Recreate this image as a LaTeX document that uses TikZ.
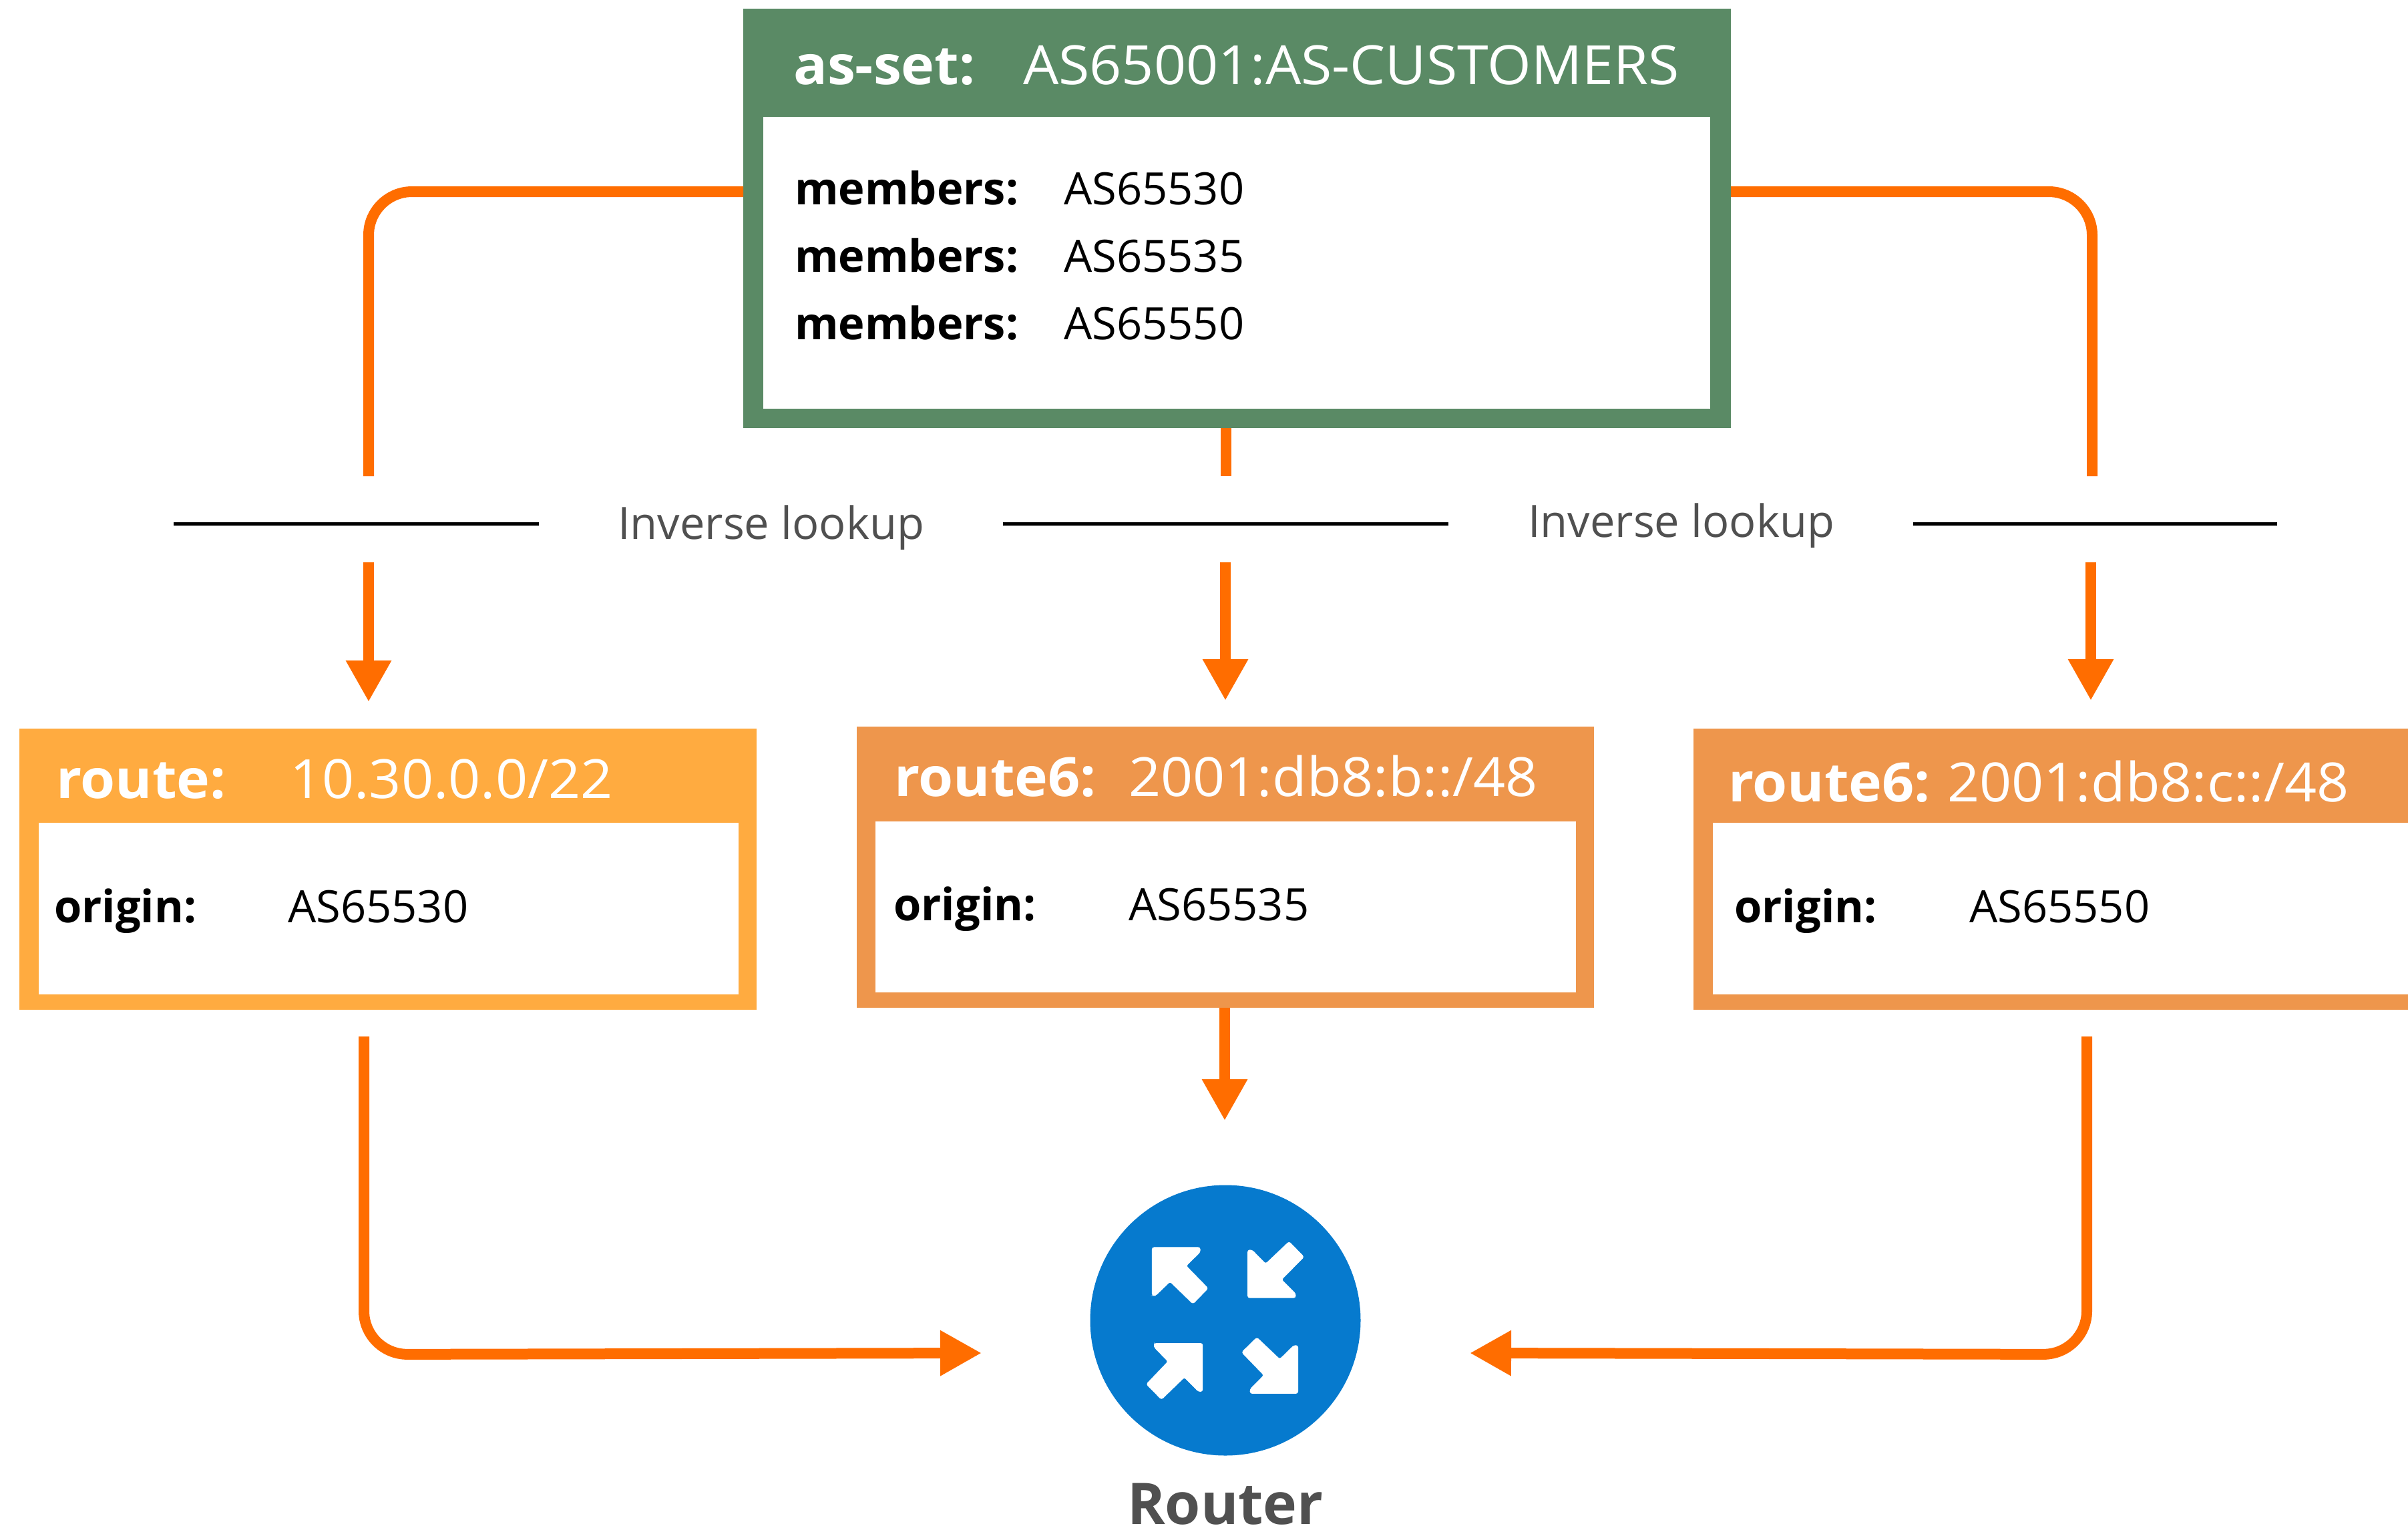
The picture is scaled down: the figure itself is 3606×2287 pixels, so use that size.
\documentclass[tikz,border=0pt]{standalone}
\usepackage{fontspec}
\setmainfont{Open Sans}
\newfontfamily\hdfam[FakeStretch=1.04]{Open Sans}
\usetikzlibrary{arrows.meta}
\definecolor{setgreen}{HTML}{5A8A65}
\definecolor{routeamber}{HTML}{FFAB40}
\definecolor{routesand}{HTML}{EE964C}
\definecolor{connorange}{HTML}{FF6D00}
\definecolor{routerblue}{HTML}{067ACE}
\definecolor{labelgrey}{HTML}{505050}
\newcommand{\hdfont}{\hdfam\fontsize{81}{97}\selectfont}
\newcommand{\bdfont}{\fontsize{66.8}{80}\selectfont}
\tikzset{
  x=1pt,y=-1pt,
  panel/.style={anchor=north west,inner sep=0pt,outer sep=0pt,draw=none},
  hdkey/.style={anchor=base west,inner sep=0pt,text=white,font=\hdfont\bfseries},
  hdval/.style={anchor=base west,inner sep=0pt,text=white,font=\hdfont},
  bdkey/.style={anchor=base west,inner sep=0pt,text=black,font=\bdfont\bfseries},
  bdval/.style={anchor=base west,inner sep=0pt,text=black,font=\bdfont},
  conn/.style={draw=connorange,line width=16pt},
  connarrow/.style={conn,-{Triangle[length=62pt,width=64pt]}},
  rule/.style={draw=black,line width=5pt},
  lookup/.style={anchor=base west,inner sep=0pt,text=labelgrey,font=\bdfont},
  icon/.style={fill=white,draw=white,line width=1pt,rounded corners=3pt},
}
\begin{document}
\begin{tikzpicture}
\useasboundingbox (0,0) rectangle (3606,2287);
\path[clip] (0,0) rectangle (3606,2287);
\fill[white] (0,0) rectangle (3606,2287);

% as-set panel
\node[panel,fill=setgreen,minimum width=1479pt,minimum height=628pt] (asset) at (1113,13) {};
\node[panel,fill=white,minimum width=1418pt,minimum height=437pt] (assetin) at (1143,175) {};
\node[hdkey] (asetk) at (1188,126) {as-set:};
\node[hdval] (asetv) at (1532,126) {AS65001:AS-CUSTOMERS};
\node[bdkey] (m1k) at (1190,306) {members:};
\node[bdval] (m1v) at (1593,306) {AS65530};
\node[bdkey] (m2k) at (1190,407) {members:};
\node[bdval] (m2v) at (1593,407) {AS65535};
\node[bdkey] (m3k) at (1190,508) {members:};
\node[bdval] (m3v) at (1593,508) {AS65550};

% route panels
\node[panel,fill=routeamber,minimum width=1104pt,minimum height=421pt] (ra) at (29,1091) {};
\node[panel,fill=white,minimum width=1048pt,minimum height=257pt] (rain) at (58,1232) {};
\node[hdkey] (rak) at (84,1195) {route:};
\node[hdval] (rav) at (434,1195) {10.30.0.0/22};
\node[bdkey] (rao) at (81,1381) {origin:};
\node[bdval] (raa) at (431,1381) {AS65530};

\node[panel,fill=routesand,minimum width=1104pt,minimum height=421pt] (rb) at (1283,1088) {};
\node[panel,fill=white,minimum width=1049pt,minimum height=256pt] (rbin) at (1311,1230) {};
\node[hdkey] (rbk) at (1339,1192) {route6:};
\node[hdval] (rbv) at (1690,1192) {2001:db8:b::/48};
\node[bdkey] (rbo) at (1338,1378) {origin:};
\node[bdval] (rba) at (1690,1378) {AS65535};

\node[panel,fill=routesand,minimum width=1104pt,minimum height=421pt] (rc) at (2536,1091) {};
\node[panel,fill=white,minimum width=1075pt,minimum height=257pt] (rcin) at (2565,1232) {};
\node[hdkey] (rck) at (2588,1200) {route6:};
\node[hdval] (rcv) at (2916,1200) {2001:db8:c::/48};
\node[bdkey] (rco) at (2597,1381) {origin:};
\node[bdval] (rca) at (2949,1381) {AS65550};

% router
\node[circle,fill=routerblue,minimum size=405pt,inner sep=0pt,outer sep=0pt] (router) at (1835,1977) {};
\node[anchor=base,inner sep=0pt,text=labelgrey,font=\fontsize{86}{100}\selectfont\bfseries] (routerlbl) at (1835,2282) {Router};
\begin{scope}[shift={(1550,1720)},x=0.35714pt,y=-0.36166pt]
\path[icon] (491,409) -- (692,409) -- (692,428) -- (633,485) -- (725,578) -- (662,642) -- (566,550) -- (505,608) -- (491,608) -- cycle;
\path[icon] (892,617) -- (892,420) -- (910,420) -- (967,477) -- (1065,385) -- (1127,448) -- (1033,542) -- (1092,600) -- (1092,617) -- cycle;
\path[icon] (702,806) -- (500,806) -- (500,822) -- (558,881) -- (467,975) -- (530,1038) -- (626,946) -- (685,1005) -- (702,1005) -- cycle;
\path[icon] (1102,1013) -- (1102,815) -- (1085,815) -- (1026,872) -- (930,782) -- (867,843) -- (960,938) -- (902,996) -- (902,1013) -- cycle;
\end{scope}

% connector waypoints
\coordinate (tl) at (552,287);
\coordinate (tlend) at (552,713);
\coordinate (tr) at (3133,287);
\coordinate (trend) at (3133,713);
\coordinate (tmend) at (1836,713);
\coordinate (la) at (552,842);
\coordinate (lat) at (552,1051);
\coordinate (lb) at (1835,842);
\coordinate (lbt) at (1835,1049);
\coordinate (lc) at (3131,842);
\coordinate (lct) at (3131,1049);
\coordinate (mbs) at (1834,1509);
\coordinate (mbt) at (1834,1678);
\coordinate (bl0) at (545,1552);
\coordinate (bl) at (545,2028);
\coordinate (blt) at (1470,2026);
\coordinate (br0) at (3125,1552);
\coordinate (br) at (3125,2028);
\coordinate (brt) at (2201,2026);

% connectors
\draw[conn,rounded corners=65pt] (asset.west |- tl) -- (tl) -- (tlend);
\draw[conn,rounded corners=65pt] (asset.east |- tr) -- (tr) -- (trend);
\draw[conn] (asset.south -| tmend) -- (tmend);
\draw[connarrow] (la) -- (lat);
\draw[connarrow] (lb) -- (lbt);
\draw[connarrow] (lc) -- (lct);
\draw[connarrow] (rb.south -| mbs) -- (mbt);
\draw[connarrow] (bl0) [rounded corners=65pt] -- (bl) -- (blt) [sharp corners];
\draw[connarrow] (br0) [rounded corners=65pt] -- (br) -- (brt) [sharp corners];

% rules and labels
\coordinate (r1a) at (260,784);
\coordinate (r1b) at (807,784);
\coordinate (r2a) at (1502,784);
\coordinate (r2b) at (2169,784);
\coordinate (r3a) at (2865,784);
\coordinate (r3b) at (3410,784);
\draw[rule] (r1a) -- (r1b);
\draw[rule] (r2a) -- (r2b);
\draw[rule] (r3a) -- (r3b);
\node[lookup] (il1) at (925,807) {Inverse lookup};
\node[lookup] (il2) at (2288,804) {Inverse lookup};
\end{tikzpicture}
\end{document}
